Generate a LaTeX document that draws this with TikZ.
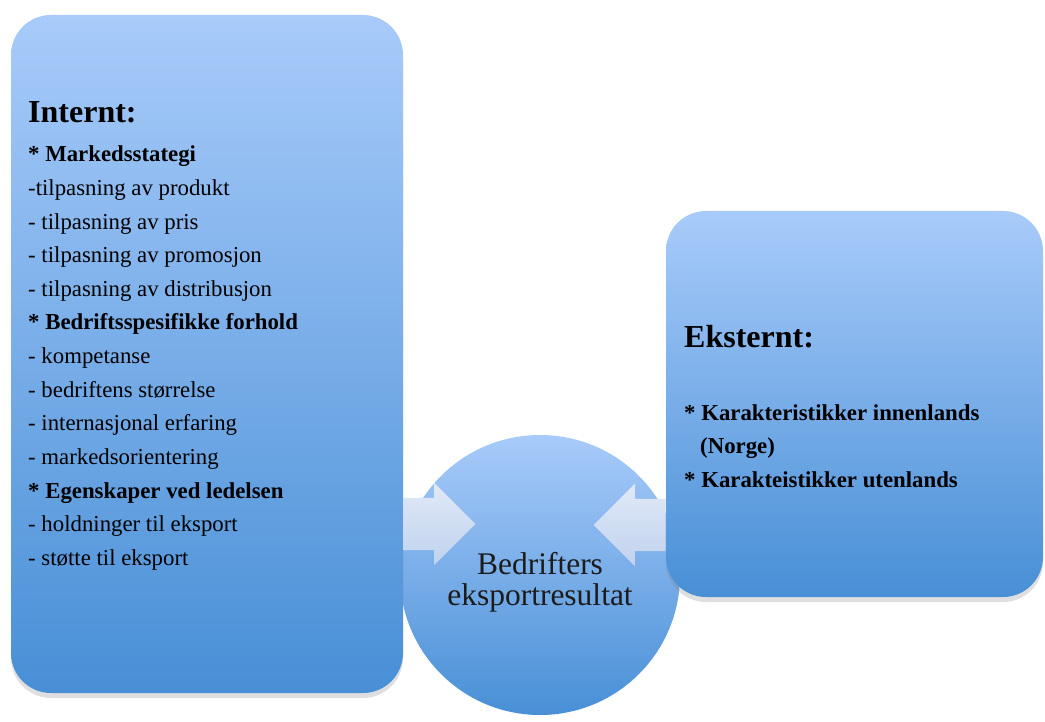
\documentclass[tikz,border=0pt]{standalone}
\usepackage{fontspec}
\setmainfont{Liberation Serif}
\usetikzlibrary{shapes.arrows,shadows,positioning}
\definecolor{boxtop}{RGB}{168,203,250}
\definecolor{boxbottom}{RGB}{72,143,214}
\definecolor{arrowtop}{RGB}{224,233,247}
\definecolor{arrowbottom}{RGB}{192,210,238}
\definecolor{labelgrey}{RGB}{28,28,28}
\tikzset{
    panel/.style={rectangle, rounded corners=40pt, top color=boxtop, bottom color=boxbottom, draw=none,
        drop shadow={shadow xshift=0pt, shadow yshift=-5pt, opacity=0.25}},
    hub/.style={circle, top color=boxtop, bottom color=boxbottom, draw=none, minimum size=280pt, inner sep=0pt},
    blockarrow/.style={single arrow, top color=arrowtop, bottom color=arrowbottom, draw=none, minimum height=72pt,
        single arrow head extend=15pt, single arrow tip angle=90, inner xsep=0pt, inner ysep=26pt},
    heading/.style={font=\fontsize{32}{38}\selectfont\bfseries, anchor=base west, inner sep=0pt},
    item/.style={font=\fontsize{22.8}{27}\selectfont, anchor=base west, inner sep=0pt},
    itemB/.style={item, font=\fontsize{22.8}{27}\selectfont\bfseries},
    hublabel/.style={font=\fontsize{31.5}{31}\selectfont, text=labelgrey, anchor=base, inner sep=0pt},
}
\begin{document}
\begin{tikzpicture}[x=1pt, y=-1pt]
    \useasboundingbox (0,0) rectangle (1045,722);

    % Result
    \node[hub] (result) at (540,575) {};

    % Panels
    \node[panel, minimum width=392pt, minimum height=678pt] (intern) at (207,354) {};
    \node[panel, minimum width=377pt, minimum height=386pt] (ekstern) at (854.5,404) {};

    % Internal factors
    \node[heading] (inttitle) at (28,123) {Internt:};
    \foreach \i/\sty/\txt in {0/itemB/* Markedsstategi, 1/item/-tilpasning av produkt, 2/item/- tilpasning av pris,
        3/item/- tilpasning av promosjon, 4/item/- tilpasning av distribusjon, 5/itemB/* Bedriftsspesifikke forhold,
        6/item/- kompetanse, 7/item/- bedriftens størrelse, 8/item/- internasjonal erfaring,
        9/item/- markedsorientering, 10/itemB/* Egenskaper ved ledelsen, 11/item/- holdninger til eksport,
        12/item/- støtte til eksport} {
        \node[\sty] (L\i) at (28,{162+33.6*\i}) {\txt};
    }

    % External factors
    \node[heading] (ekstitle) at (684,347) {Eksternt:};
    \node[itemB] (R1) at (684,420) {* Karakteristikker innenlands};
    \node[itemB] (R2) at (700,453) {(Norge)};
    \node[itemB] (R3) at (684,487) {* Karakteistikker utenlands};

    % Result label
    \node[hublabel] (resultA) at (540,574) {Bedrifters};
    \node[hublabel] (resultB) at (540,605) {eksportresultat};

    % Arrows
    \node[blockarrow, anchor=tail] (arrowL) at (intern.east |- 0,524) {};
    \node[blockarrow, shape border rotate=180, anchor=tail] (arrowR) at (ekstern.west |- 0,525) {};
\end{tikzpicture}
\end{document}
